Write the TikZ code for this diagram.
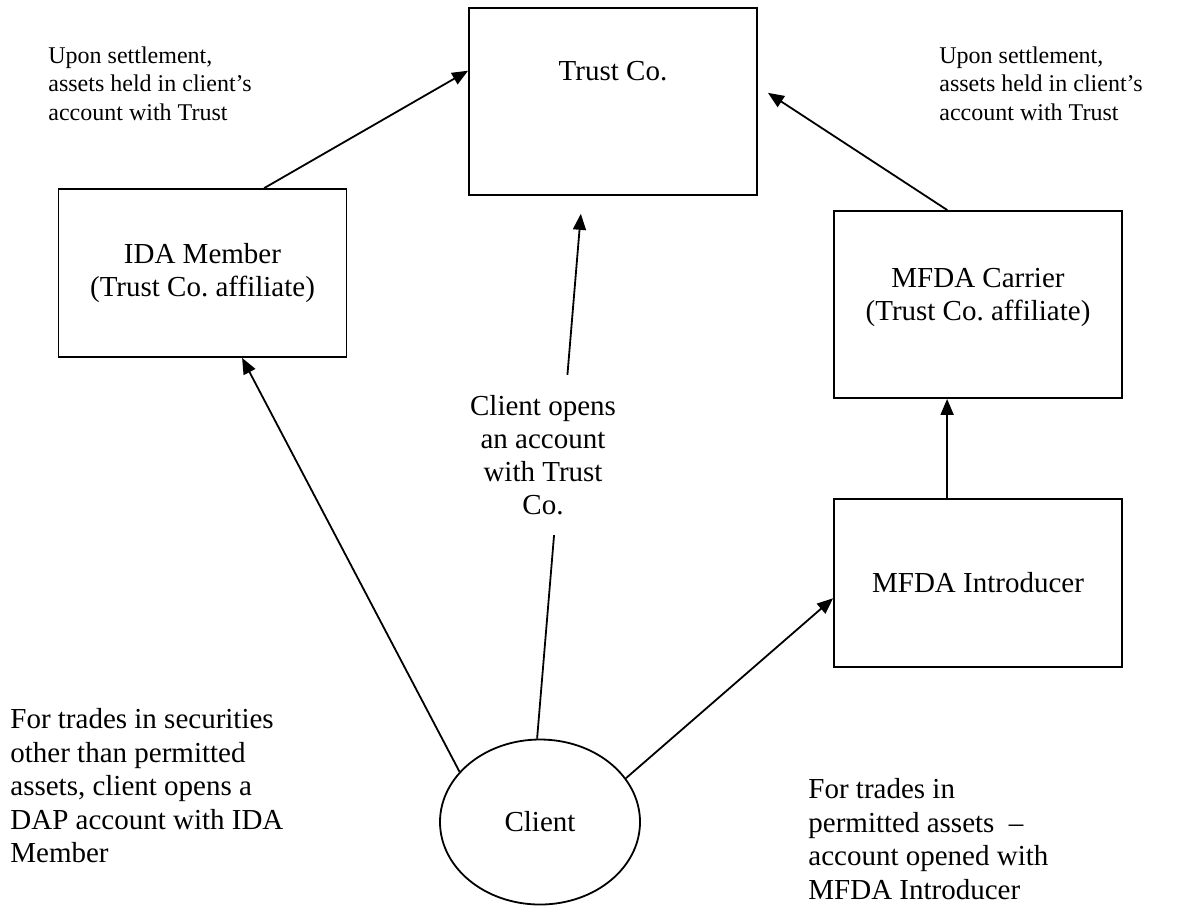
\documentclass[tikz,border=0pt]{standalone}
\usepackage{fontspec}
\setmainfont{Liberation Serif}
\usetikzlibrary{arrows.meta,shapes.geometric}
\frenchspacing

\begin{document}
\begin{tikzpicture}[x=0.5pt,y=-0.5pt,
    box/.style={draw,line width=0.9pt,minimum width=144pt,align=center,
      font=\fontsize{14.5pt}{16.75pt}\selectfont},
    note/.style={align=left,inner sep=0pt,anchor=north west,
      font=\fontsize{14.5pt}{16.75pt}\selectfont},
    small/.style={note,font=\fontsize{12pt}{14.25pt}\selectfont},
    arr/.style={line width=0.9pt,-{Triangle[length=8pt,width=6.5pt]}}]
  \useasboundingbox (0,0) rectangle (1188,907);
  \node[box,inner ysep=0pt,text height=36pt,text depth=57.5pt] (trust) at (613,101.5) {Trust Co.};
  \node[box,minimum height=84pt] (ida) at (202.5,273) {IDA Member\\(Trust Co. affiliate)};
  \node[box,minimum height=93.5pt] (carrier) at (978,304.5) {MFDA Carrier\\(Trust Co. affiliate)\\[-6.5pt]};
  \node[box,minimum height=84pt] (intro) at (978,583) {MFDA Introducer};
  \node[draw,ellipse,line width=0.9pt,minimum width=100pt,minimum height=82.5pt,inner sep=0pt,
    font=\fontsize{14.5pt}{16.75pt}\selectfont] (client) at (540,822) {Client};
  % notes
  \node[small] (noteida) at (48,46) {Upon settlement,\\assets held in client's\\account with Trust};
  \node[small] (notecarrier) at (939,46) {Upon settlement,\\assets held in client's\\account with Trust};
  \node[note] (notedap) at (10,708) {For trades in securities\\other than permitted\\assets, client opens a\\DAP account with IDA\\Member};
  \node[note] (notemfda) at (808,778) {For trades in\\permitted assets\ \ --\\account opened with\\MFDA Introducer};
  % arrows
  \draw[arr] (client.148) -- (ida.295);
  \draw[arr] (ida.54) -- (trust.168);
  \draw[arr,shorten >=9pt] (client.92) -- (trust.252.5);
  \node[fill=white,align=center,inner sep=10pt,
    font=\fontsize{14.5pt}{16.5pt}\selectfont] (opens) at (543,455) {Client opens\\an account\\with Trust\\Co.};
  \draw[arr,shorten >=6pt] (carrier.108) -- (trust.6);
  \draw[arr] (intro.110) -- (intro.110 |- carrier.south);
  \draw[arr] (client.27) -- (intro.186);
\end{tikzpicture}
\end{document}
